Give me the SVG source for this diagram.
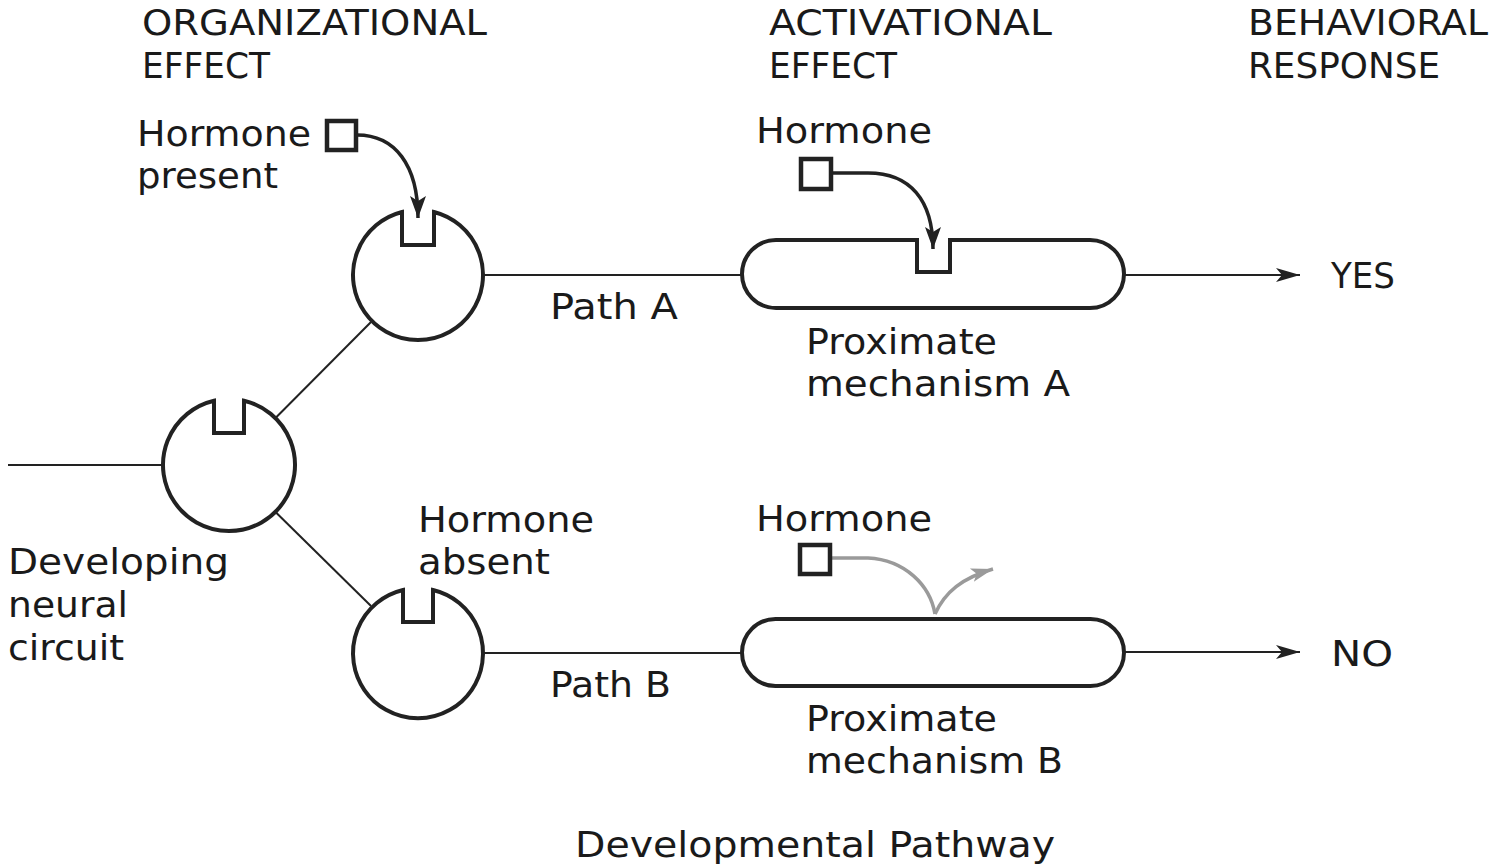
<svg xmlns="http://www.w3.org/2000/svg" width="1490" height="865" viewBox="0 0 1490 865">
<style>
text{font-family:"DejaVu Sans","Liberation Sans",sans-serif;font-size:35px;fill:#1a1a1a}
.node{fill:#fff;stroke:#222;stroke-width:4}
.sq{fill:#fff;stroke:#222;stroke-width:4.5}
.ln{fill:none;stroke:#222;stroke-width:2}
.cv{fill:none;stroke:#222;stroke-width:3.5}
.gr{fill:none;stroke:#9a9a9a;stroke-width:3.5}
</style>
<defs>
<marker id="ah" markerWidth="26" markerHeight="16" refX="24" refY="8" orient="auto" markerUnits="userSpaceOnUse"><path d="M0,1 L24,8 L0,15 L6,8 Z" fill="#222"/></marker>
<marker id="ahc" markerWidth="24" markerHeight="18" refX="22" refY="9" orient="auto" markerUnits="userSpaceOnUse"><path d="M0,1 L22,9 L0,17 L5,9 Z" fill="#222"/></marker>
<marker id="ahg" markerWidth="24" markerHeight="18" refX="22" refY="9" orient="auto" markerUnits="userSpaceOnUse"><path d="M0,2 L22,9 L0,16 L5,9 Z" fill="#9a9a9a"/></marker>
</defs>
<g id="headers">
<text x="142" y="35" textLength="345" lengthAdjust="spacingAndGlyphs">ORGANIZATIONAL</text>
<text x="142" y="78" textLength="128" lengthAdjust="spacingAndGlyphs">EFFECT</text>
<text x="769" y="35" textLength="283" lengthAdjust="spacingAndGlyphs">ACTIVATIONAL</text>
<text x="769" y="78" textLength="128" lengthAdjust="spacingAndGlyphs">EFFECT</text>
<text x="1248" y="35" textLength="240" lengthAdjust="spacingAndGlyphs">BEHAVIORAL</text>
<text x="1248" y="78" textLength="192" lengthAdjust="spacingAndGlyphs">RESPONSE</text>
</g>
<g id="connectors">
<line class="ln" x1="8" y1="465" x2="163" y2="465"/>
<line class="ln" x1="275.5" y1="418" x2="371" y2="322"/>
<line class="ln" x1="275.5" y1="512" x2="371" y2="606"/>
<line class="ln" x1="483" y1="275" x2="742" y2="275"/>
<line class="ln" x1="483" y1="653" x2="742" y2="653"/>
<line class="ln" x1="1124" y1="275" x2="1300" y2="275" marker-end="url(#ah)"/>
<line class="ln" x1="1124" y1="652" x2="1300" y2="652" marker-end="url(#ah)"/>
<path class="cv" d="M357,135 C395,135 418,165 418,218" marker-end="url(#ahc)"/>
<path class="cv" d="M832,173 L868,173 C910,173 933,200 933,249" marker-end="url(#ahc)"/>
<path class="gr" d="M832,558 L868,558 C905,560 930,585 935,614"/>
<path class="gr" d="M935,614 C945,592 962,578 993,569" marker-end="url(#ahg)"/>
</g>
<g id="circuit">
<path class="node" d="M214,400.7 A66 66 0 1 0 244,400.7 L244,433 L214,433 Z"/>
<text x="8" y="574" textLength="221" lengthAdjust="spacingAndGlyphs">Developing</text>
<text x="8" y="617" textLength="120" lengthAdjust="spacingAndGlyphs">neural</text>
<text x="8" y="660" textLength="116" lengthAdjust="spacingAndGlyphs">circuit</text>
</g>
<g id="node-top">
<path class="node" d="M402,212 A65 65 0 1 0 434,212 L434,245 L402,245 Z"/>
<rect class="sq" x="327" y="121" width="29" height="29"/>
<text x="137" y="146" textLength="174" lengthAdjust="spacingAndGlyphs">Hormone</text>
<text x="137" y="188" textLength="141" lengthAdjust="spacingAndGlyphs">present</text>
<text x="550" y="319" textLength="128" lengthAdjust="spacingAndGlyphs">Path A</text>
</g>
<g id="node-bottom">
<path class="node" d="M403,590 A65 65 0 1 0 433,590 L433,622 L403,622 Z"/>
<text x="418" y="532" textLength="176" lengthAdjust="spacingAndGlyphs">Hormone</text>
<text x="418" y="574" textLength="132" lengthAdjust="spacingAndGlyphs">absent</text>
<text x="550" y="697" textLength="121" lengthAdjust="spacingAndGlyphs">Path B</text>
</g>
<g id="mech-a">
<path class="node" d="M776,240 L917,240 L917,272 L950,272 L950,240 L1090,240 A34 34 0 0 1 1090,308 L776,308 A34 34 0 0 1 776,240 Z"/>
<rect class="sq" x="801" y="159" width="30" height="30"/>
<text x="756" y="143" textLength="176" lengthAdjust="spacingAndGlyphs">Hormone</text>
<text x="806" y="354" textLength="191" lengthAdjust="spacingAndGlyphs">Proximate</text>
<text x="806" y="396" textLength="264" lengthAdjust="spacingAndGlyphs">mechanism A</text>
</g>
<g id="mech-b">
<rect class="node" x="742" y="619" width="382" height="67" rx="33.5" ry="33.5"/>
<rect class="sq" x="800" y="545" width="30" height="29"/>
<text x="756" y="531" textLength="176" lengthAdjust="spacingAndGlyphs">Hormone</text>
<text x="806" y="731" textLength="191" lengthAdjust="spacingAndGlyphs">Proximate</text>
<text x="806" y="773" textLength="257" lengthAdjust="spacingAndGlyphs">mechanism B</text>
</g>
<g id="responses">
<text x="1331" y="288" textLength="64" lengthAdjust="spacingAndGlyphs">YES</text>
<text x="1331" y="666" textLength="62" lengthAdjust="spacingAndGlyphs">NO</text>
</g>
<g id="caption">
<text x="575" y="857" textLength="480" lengthAdjust="spacingAndGlyphs">Developmental Pathway</text>
</g>
</svg>
